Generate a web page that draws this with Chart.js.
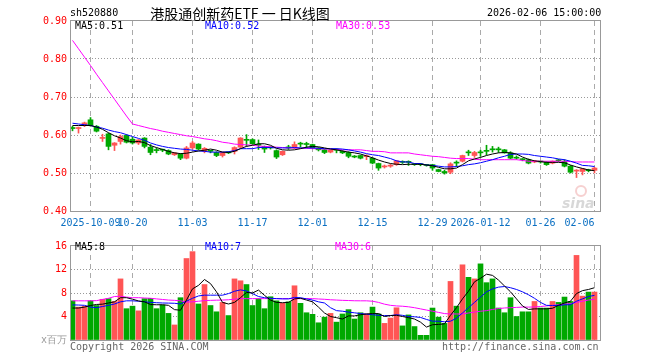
<!DOCTYPE html>
<html><head><meta charset="utf-8">
<script src="https://cdn.jsdelivr.net/npm/chart.js@4.4.1/dist/chart.umd.min.js"></script>
<style>
html,body{margin:0;padding:0;background:#fff;}
#wrap{position:relative;width:660px;height:360px;background:#fff;overflow:hidden;}
canvas{position:absolute;left:0;}
.t{position:absolute;font:10px "DejaVu Sans Mono",monospace;line-height:12px;white-space:pre;}
</style></head>
<body><div id="wrap">
<canvas id="pc" width="660" height="236" style="top:0"></canvas>
<canvas id="vc" width="660" height="124" style="top:236px"></canvas>
<div class="t" style="left:70px;top:7px;color:#000">sh520880</div>
<div class="t" style="left:120px;top:4px;width:240px;text-align:center;font:14px 'Noto Sans CJK SC';line-height:18px;color:#000">港股通创新药ETF 一 日K线图</div>
<div class="t" style="left:487px;top:7px;color:#000">2026-02-06 15:00:00</div>
<div class="t" style="left:75px;top:20px;color:#000">MA5:0.51</div>
<div class="t" style="left:205px;top:20px;color:#0000ff">MA10:0.52</div>
<div class="t" style="left:336px;top:20px;color:#ff00ff">MA30:0.53</div>
<div class="t" style="left:75px;top:241px;color:#000">MA5:8</div>
<div class="t" style="left:205px;top:241px;color:#0000ff">MA10:7</div>
<div class="t" style="left:335px;top:241px;color:#ff00ff">MA30:6</div>
<div class="t" style="left:70px;top:341px;color:#666">Copyright 2026 SINA.COM</div>
<div class="t" style="left:442px;top:341px;color:#666">http://finance.sina.com.cn</div>
</div>
<script>
const dates = ['2025-09-26','2025-09-29','2025-09-30',
'2025-10-09','2025-10-10','2025-10-13','2025-10-14','2025-10-15','2025-10-16','2025-10-17','2025-10-20','2025-10-21','2025-10-22','2025-10-23','2025-10-24','2025-10-27','2025-10-28','2025-10-29','2025-10-30','2025-10-31',
'2025-11-03','2025-11-04','2025-11-05','2025-11-06','2025-11-07','2025-11-10','2025-11-11','2025-11-12','2025-11-13','2025-11-14','2025-11-17','2025-11-18','2025-11-19','2025-11-20','2025-11-21','2025-11-24','2025-11-25','2025-11-26','2025-11-27','2025-11-28',
'2025-12-01','2025-12-02','2025-12-03','2025-12-04','2025-12-05','2025-12-08','2025-12-09','2025-12-10','2025-12-11','2025-12-12','2025-12-15','2025-12-16','2025-12-17','2025-12-18','2025-12-19','2025-12-22','2025-12-23','2025-12-24','2025-12-25','2025-12-26','2025-12-29','2025-12-30','2025-12-31',
'2026-01-05','2026-01-06','2026-01-07','2026-01-08','2026-01-09','2026-01-12','2026-01-13','2026-01-14','2026-01-15','2026-01-16','2026-01-19','2026-01-20','2026-01-21','2026-01-22','2026-01-23','2026-01-26','2026-01-27','2026-01-28','2026-01-29','2026-01-30',
'2026-02-02','2026-02-03','2026-02-04','2026-02-05','2026-02-06'];

const tickDates = ['2025-10-09','2025-10-20','2025-11-03','2025-11-17','2025-12-01','2025-12-15','2025-12-29','2026-01-12','2026-01-26','2026-02-06'];
const tickLabels = ['2025-10-09','10-20','11-03','11-17','12-01','12-15','12-29','2026-01-12','01-26','02-06'];
const priceTicks = [0.4,0.5,0.6,0.7,0.8,0.9];
const volTicks = [0,4,8,12,16];

const open = [.618,.617,.625,.640,.623,.591,.603,.573,.583,.599,
.589,.579,.592,.568,.560,.561,.559,.548,.550,.539,
.566,.576,.557,.558,.554,.546,.554,.557,.568,.587,
.588,.574,.570,.567,.559,.548,.567,.566,.577,.576,
.575,.566,.561,.555,.561,.557,.554,.543,.546,.543,
.539,.525,.516,.518,.522,.529,.529,.523,.523,.521,
.522,.509,.504,.502,.527,.531,.554,.546,.554,.558,
.562,.562,.561,.553,.540,.536,.535,.529,.530,.529,
.526,.533,.531,.518,.505,.504,.507,.507];
const close = [.617,.619,.632,.625,.610,.593,.570,.579,.596,.581,
.579,.587,.570,.554,.559,.560,.550,.553,.539,.566,
.579,.563,.565,.557,.546,.554,.553,.567,.592,.586,
.577,.573,.563,.566,.542,.557,.566,.575,.576,.575,
.566,.561,.554,.560,.560,.553,.544,.542,.539,.545,
.526,.513,.518,.520,.532,.528,.528,.522,.522,.520,
.513,.504,.500,.524,.526,.546,.553,.554,.553,.557,
.561,.561,.553,.539,.539,.535,.526,.532,.529,.522,
.531,.532,.518,.502,.507,.511,.506,.513];
const high = [.623,.621,.634,.646,.625,.602,.605,.580,.600,.601,
.594,.588,.593,.575,.566,.563,.561,.554,.551,.570,
.583,.577,.567,.560,.556,.555,.556,.569,.593,.601,
.590,.587,.571,.569,.561,.558,.573,.582,.581,.581,
.576,.567,.562,.561,.564,.559,.556,.546,.547,.548,
.540,.526,.521,.523,.533,.532,.532,.525,.525,.522,
.523,.510,.507,.527,.532,.547,.560,.557,.560,.573,
.570,.568,.562,.556,.545,.538,.537,.533,.531,.530,
.532,.536,.535,.520,.509,.512,.510,.515];
const low = [.611,.605,.622,.623,.608,.583,.561,.559,.576,.579,
.576,.575,.566,.548,.553,.556,.548,.546,.535,.537,
.563,.561,.553,.553,.543,.542,.551,.550,.566,.570,
.575,.562,.554,.563,.538,.546,.562,.564,.568,.566,
.564,.558,.551,.553,.553,.551,.540,.540,.537,.535,
.524,.507,.513,.515,.520,.525,.520,.520,.519,.518,
.507,.503,.497,.498,.517,.529,.546,.541,.544,.548,
.555,.554,.552,.537,.536,.532,.524,.527,.526,.520,
.524,.530,.516,.500,.488,.495,.503,.500];

const ma5 = [.625,.625,.625,.625,.621,.615,.606,.598,.592,.585,
.582,.583,.580,.572,.567,.562,.557,.553,.551,.552,
.555,.558,.560,.563,.560,.555,.554,.557,.564,.570,
.573,.577,.577,.573,.565,.561,.560,.561,.564,.568,
.570,.569,.566,.563,.561,.558,.555,.553,.550,.545,
.540,.534,.529,.525,.523,.522,.523,.523,.523,.521,
.519,.515,.511,.511,.513,.522,.532,.537,.541,.546,
.550,.553,.554,.553,.550,.542,.536,.532,.530,.528,
.528,.528,.527,.521,.516,.512,.508,.506];
const ma10 = [.631,.629,.627,.625,.621,.618,.613,.609,.606,.601,
.596,.591,.586,.579,.574,.570,.567,.565,.563,.562,
.560,.558,.557,.555,.555,.555,.556,.559,.564,.564,
.564,.567,.5675,.567,.566,.566,.566,.567,.566,.566,
.566,.565,.564,.564,.564,.563,.561,.558,.555,.551,
.548,.546,.542,.538,.532,.529,.529,.525,.525,.521,
.520,.518,.516,.516,.517,.519,.522,.524,.527,.531,
.535,.540,.544,.549,.550,.550,.549,.546,.544,.542,
.540,.537,.535,.531,.526,.520,.519,.517];
const ma30 = [.849,.827,.805,.783,.760,.738,.716,.694,.672,.650,
.629,.625,.621,.617,.614,.610,.607,.604,.601,.598,
.596,.593,.590,.588,.585,.581,.579,.576,.575,.574,
.573,.571,.570,.569,.568,.567,.566,.566,.565,.565,
.564,.564,.563,.563,.562,.561,.561,.561,.561,.559,
.557,.557,.556,.553,.553,.553,.553,.550,.548,.546,
.544,.543,.541,.539,.538,.538,.538,.536,.535,.535,
.535,.535,.535,.535,.535,.533,.531,.531,.531,.531,
.531,.531,.531,.530,.529,.529,.529,.529];

const volume = [6.67,5.6,5.76,6.67,5.87,6.93,7.04,6.56,10.4,5.33,
5.76,4.96,7.04,7.09,5.33,5.97,4.53,2.56,7.2,13.87,
15.04,6.13,9.44,5.87,4.8,6.4,4.16,10.4,10.08,9.44,
5.87,7.04,5.33,7.36,6.67,6.24,6.5,9.23,6.24,4.64,
4.37,2.93,3.89,4.53,3.04,4.43,5.17,3.57,4.64,4.43,
5.6,4.43,2.83,3.73,5.49,2.4,4.27,2.29,0.8,0.8,
5.44,3.89,2.83,9.97,5.76,12.8,10.67,10.4,12.96,9.76,
10.4,5.44,4.64,7.2,4.0,4.8,4.8,6.56,5.44,5.44,
6.56,6.4,7.31,6.56,14.4,7.47,8.16,8.16];
const volMa5 = [5.44,5.44,5.6,5.87,6.05,6.1,6.3,6.5,7.2,7.2,
6.95,6.65,6.5,6.03,6.0,6.0,5.9,5.17,5.07,6.8,
8.7,9.3,10.3,9.6,8.2,6.4,6.13,6.4,7.2,8.1,
8.0,8.5,7.6,6.8,6.4,6.35,6.4,7.0,7.1,6.8,
6.5,5.6,4.6,4.0,3.8,3.57,4.1,4.1,4.3,4.43,
4.5,4.5,4.0,4.16,4.2,4.0,3.8,3.57,3.04,2.2,
2.6,2.65,2.75,4.2,5.5,7.0,8.3,9.9,10.5,11.2,
11.0,10.2,9.2,8.2,7.0,5.8,5.2,5.3,5.3,5.3,
5.4,5.9,6.3,6.6,7.9,8.4,8.6,8.9];
const volMa10 = [5.97,5.95,5.9,5.6,5.5,5.7,5.9,6.13,6.5,6.67,
6.67,6.6,6.5,6.4,6.35,6.3,6.28,6.25,6.13,6.6,
7.1,7.5,7.63,7.63,7.63,7.63,7.9,8.3,8.53,8.35,
7.9,7.4,7.2,7.1,7.05,7.0,7.0,7.25,7.2,7.0,
6.8,6.5,6.3,5.5,5.0,4.9,4.75,4.63,4.5,4.4,
4.3,4.2,4.16,4.16,4.3,4.2,4.0,3.95,3.84,3.5,
3.2,3.2,3.1,3.2,3.7,4.6,5.5,6.4,7.3,8.2,
8.7,9.0,9.1,8.9,8.6,8.2,7.7,7.1,6.4,5.9,
5.87,5.87,6.0,6.0,6.6,7.0,7.4,7.6];
const volMa30 = [6.67,6.67,6.67,6.67,6.7,6.9,7.1,7.4,7.45,7.3,
7.2,7.2,7.15,7.1,7.0,6.9,6.8,6.75,6.67,6.45,
6.5,6.6,6.7,6.75,6.78,6.8,6.85,6.95,7.04,7.04,
7.04,7.04,7.04,7.04,7.04,7.04,7.04,7.04,7.04,7.04,
7.04,6.98,6.93,6.85,6.8,6.75,6.72,6.68,6.67,6.67,
6.6,6.4,6.1,5.9,5.8,5.75,5.65,5.5,5.3,5.1,
4.9,4.7,4.5,4.43,4.43,4.43,4.6,4.75,4.9,5.0,
5.2,5.35,5.45,5.5,5.55,5.6,5.6,5.62,5.7,5.8,
5.9,6.0,6.1,6.2,6.4,6.6,6.8,6.93];

const UP = '#ff5555', DOWN = '#00a800';
const idx = dates.map((d,i)=>i);
const tickIdx = tickDates.map(d=>dates.indexOf(d));
const colors = idx.map(i => close[i] >= open[i] ? UP : DOWN);
const MONO = {family:'DejaVu Sans Mono', size:10};

const frame = {
  id:'frame',
  afterDraw(chart){
    const {ctx, chartArea:a} = chart;
    ctx.save();
    ctx.strokeStyle = '#999'; ctx.lineWidth = 1;
    ctx.strokeRect(Math.round(a.left)-0.5, Math.round(a.top)-0.5, Math.round(a.right-a.left)+1, Math.round(a.bottom-a.top)+1);
    ctx.restore();
  }
};
const logo = {
  id:'logo',
  beforeDatasetsDraw(chart){
    const {ctx} = chart;
    ctx.save();
    ctx.strokeStyle = 'rgba(230,120,120,0.35)'; ctx.lineWidth = 2;
    ctx.beginPath(); ctx.arc(581, 191, 5, 0, Math.PI*2); ctx.stroke();
    ctx.fillStyle = 'rgba(190,190,190,0.6)';
    ctx.font = 'italic bold 14px "DejaVu Sans"';
    ctx.fillText('sina', 562, 208);
    ctx.restore();
  }
};

function xScale(showTicks, h){
  return {
    type:'linear', min:-0.25, max:87.9167, offset:false,
    afterBuildTicks: s => { s.ticks = tickIdx.map(v=>({value:v})); },
    afterFit: s => { s.height = h; },
    ticks:{display:showTicks, autoSkip:false, maxRotation:0, minRotation:0, padding:6,
      color:'#0a6fc2', font:MONO,
      // the last label sits left of its tick so it stays inside the frame
      callback:(v,i)=> i === tickLabels.length-1 ? tickLabels[i] + ' '.repeat(tickLabels[i].length) : tickLabels[i]},
    grid:{color:'#aaa', drawTicks:false, lineWidth:1, offset:false},
    border:{display:false, dash:[5,4]}
  };
}

new Chart(document.getElementById('pc'), {
  data:{datasets:[
    {type:'line', data:idx.map(i=>({x:i,y:ma5[i]})), borderColor:'#000', borderWidth:1, pointRadius:0, order:0},
    {type:'line', data:idx.map(i=>({x:i,y:ma10[i]})), borderColor:'#0000ff', borderWidth:1, pointRadius:0, order:0},
    {type:'line', data:idx.map(i=>({x:i,y:ma30[i]})), borderColor:'#ff00ff', borderWidth:1, pointRadius:0, order:0},
    {type:'bar', data:idx.map(i=>({x:i,y:[open[i],close[i]]})), backgroundColor:colors, barThickness:5, minBarLength:1, grouped:false, order:1},
    {type:'bar', data:idx.map(i=>({x:i,y:[low[i],high[i]]})), backgroundColor:colors, barThickness:1, grouped:false, order:2}
  ]},
  options:{
    responsive:false, animation:false, devicePixelRatio:1,
    layout:{padding:{left:0,right:60,top:21,bottom:0}},
    plugins:{legend:{display:false}, tooltip:{enabled:false}},
    scales:{
      x: xScale(true, 25),
      y: {type:'linear', min:0.4, max:0.9,
        afterBuildTicks: s => { s.ticks = priceTicks.map(v=>({value:v})); },
        afterFit: s => { s.width = 71; },
        ticks:{color:'#ff0000', font:MONO, padding:4, callback:v=>v.toFixed(2)},
        grid:{drawTicks:false, color:c => (c.tick && (c.tick.value<=0.4001 || c.tick.value>=0.8999)) ? 'rgba(0,0,0,0)' : '#999'},
        border:{display:false, dash:[1,2]}}
    }
  },
  plugins:[frame, logo]
});

new Chart(document.getElementById('vc'), {
  data:{datasets:[
    {type:'line', data:idx.map(i=>({x:i,y:volMa5[i]})), borderColor:'#000', borderWidth:1, pointRadius:0, order:0},
    {type:'line', data:idx.map(i=>({x:i,y:volMa10[i]})), borderColor:'#0000ff', borderWidth:1, pointRadius:0, order:0},
    {type:'line', data:idx.map(i=>({x:i,y:volMa30[i]})), borderColor:'#ff00ff', borderWidth:1, pointRadius:0, order:0},
    {type:'bar', data:idx.map(i=>({x:i,y:volume[i]})), backgroundColor:colors, barThickness:5, grouped:false, order:1}
  ]},
  options:{
    responsive:false, animation:false, devicePixelRatio:1,
    layout:{padding:{left:0,right:60,top:4,bottom:0}},
    plugins:{legend:{display:false}, tooltip:{enabled:false}},
    scales:{
      x: xScale(false, 20),
      y: {type:'linear', min:0, max:16,
        afterBuildTicks: s => { s.ticks = volTicks.map(v=>({value:v})); },
        afterFit: s => { s.width = 71; },
        ticks:{font:MONO, padding:4,
          color:c => (c.tick && c.tick.value===0) ? '#999' : '#ff0000',
          callback:v => v===0 ? 'x百万' : String(v)},
        grid:{drawTicks:false, color:c => (c.tick && (c.tick.value===0 || c.tick.value===16)) ? 'rgba(0,0,0,0)' : '#999'},
        border:{display:false, dash:[1,2]}}
    }
  },
  plugins:[frame]
});
</script>
</body></html>
